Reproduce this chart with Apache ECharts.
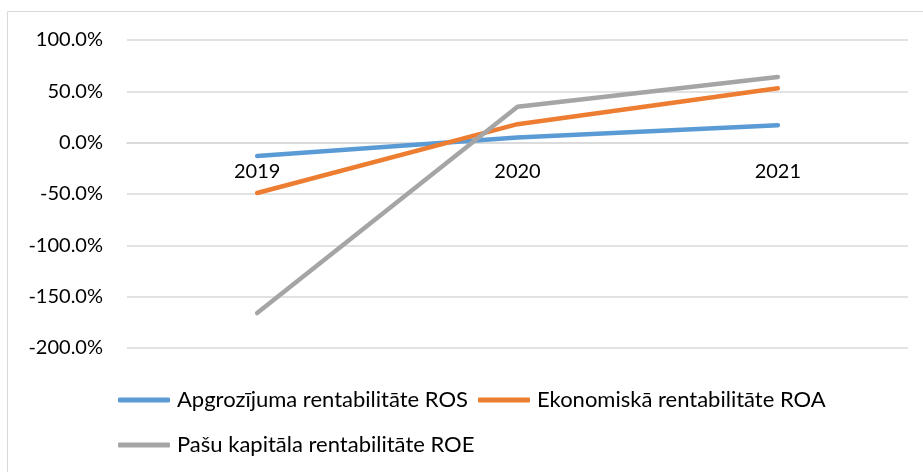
<!DOCTYPE html>
<html>
<head>
<meta charset="utf-8">
<script src="https://cdn.jsdelivr.net/npm/echarts@6/dist/echarts.min.js"></script>
<style>
  html, body { margin: 0; padding: 0; background: #fff; }
  #chart { width: 923px; height: 472px; }
</style>
</head>
<body>
<div id="chart"></div>
<script>
const years = ['2019', '2020', '2021'];
const rosValues = [-13, 5, 17];
const roaValues = [-49, 18, 53];
const roeValues = [-166, 35, 64];
const yTicks = { min: -200, max: 100, step: 50 };

const names = [
  'Apgrozījuma rentabilitāte ROS',
  'Ekonomiskā rentabilitāte ROA',
  'Pašu kapitāla rentabilitāte ROE',
];
const colors = ['#5B9BD5', '#ED7D31', '#A5A5A5'];
const font = 'Lato, "Open Sans", sans-serif';

const chart = echarts.init(document.getElementById('chart'));

const legendBase = {
  left: 113,
  icon: 'roundRect',
  itemWidth: 52,
  itemHeight: 5,
  itemGap: 10,
  textStyle: { fontFamily: font, fontSize: 22, color: '#000', padding: [0, 0, 0, 2] },
};

// zero line sits 205px above the bottom of the plot (300% range over 308px)
const opts = {
  animation: false,
  color: colors,
  graphic: [
    {
      type: 'rect',
      shape: { x: 7.5, y: 11.5, width: 930, height: 470 },
      style: { fill: 'none', stroke: '#d9d9d9', lineWidth: 1 },
      silent: true,
    },
  ],
  grid: { left: 127, right: 15, top: 40, bottom: 124, containLabel: false },
  legend: [
    Object.assign({ top: 384, data: [names[0], names[1]] }, legendBase),
    Object.assign({ top: 429, data: [names[2]] }, legendBase),
  ],
  xAxis: {
    type: 'category',
    data: years,
    boundaryGap: true,
    position: 'bottom',
    offset: -205,
    axisLine: { onZero: false, lineStyle: { color: '#d9d9d9', width: 1.5 } },
    axisTick: { show: false },
    axisLabel: { margin: 19, fontFamily: font, fontSize: 20, color: '#000' },
  },
  yAxis: {
    type: 'value',
    min: yTicks.min,
    max: yTicks.max,
    interval: yTicks.step,
    axisLine: { show: false },
    axisTick: { show: false },
    splitLine: { lineStyle: { color: '#d9d9d9', width: 1.5 } },
    axisLabel: {
      margin: 24,
      fontFamily: font,
      fontSize: 20,
      color: '#000',
      formatter: (v) => `${v.toFixed(1)}%`,
    },
  },
  series: [rosValues, roaValues, roeValues].map((data, i) => ({
    name: names[i],
    type: 'line',
    data,
    symbol: 'none',
    lineStyle: { width: 4.5, cap: 'round', join: 'round' },
  })),
};

chart.setOption(opts);
</script>
</body>
</html>
